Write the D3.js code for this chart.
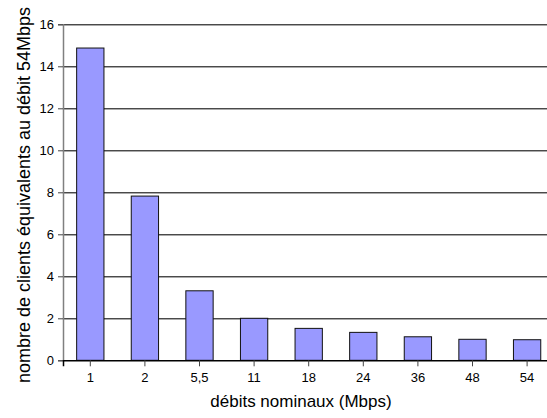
<!DOCTYPE html>
<html>
<head>
<meta charset="utf-8">
<script src="https://cdn.jsdelivr.net/npm/d3@7"></script>
<style>
  body { margin: 0; background: #fff; }
  svg { display: block; font-family: "Liberation Sans", Arial, sans-serif; }
</style>
</head>
<body>
<div id="chart"></div>
<script>
const debits = ["1", "2", "5,5", "11", "18", "24", "36", "48", "54"]
const clients = [14.87, 7.82, 3.31, 2.0, 1.52, 1.33, 1.12, 1.0, 0.98]
const yTicks = [0, 2, 4, 6, 8, 10, 12, 14, 16]

const width = 547, height = 418
const margin = {top: 24.3, right: -7.4, bottom: 57.7, left: 63}

const svg = d3.select('#chart').append('svg')
    .attr('width', width)
    .attr('height', height)

const x = d3.scaleBand()
    .domain(debits)
    .range([margin.left, width - margin.right])
    .paddingInner(0.5)
    .paddingOuter(0.25)

const y = d3.scaleLinear()
    .domain([0, 16])
    .range([height - margin.bottom, margin.top])

// horizontal grid lines (dark line with a light shadow underneath)
const grid = svg.append('g')
grid.selectAll('line.shadow')
    .data(yTicks.filter(d => d > 0))
    .join('line')
    .attr('class', 'shadow')
    .attr('x1', margin.left)
    .attr('x2', width - margin.right)
    .attr('y1', d => Math.round(y(d)) + 1.5)
    .attr('y2', d => Math.round(y(d)) + 1.5)
    .attr('stroke', '#aaa')
grid.selectAll('line.main')
    .data(yTicks.filter(d => d > 0))
    .join('line')
    .attr('class', 'main')
    .attr('x1', margin.left)
    .attr('x2', width - margin.right)
    .attr('y1', d => Math.round(y(d)) + 0.5)
    .attr('y2', d => Math.round(y(d)) + 0.5)
    .attr('stroke', '#4a4a4a')

// bars
svg.append('g')
    .selectAll('rect')
    .data(clients)
    .join('rect')
    .attr('x', (d, i) => x(debits[i]))
    .attr('y', d => y(d))
    .attr('width', x.bandwidth())
    .attr('height', d => y(0) - y(d))
    .attr('fill', '#9999ff')
    .attr('stroke', '#111')
    .attr('stroke-width', 1)

// y axis
const yAxis = svg.append('g')
    .attr('transform', `translate(${margin.left},0)`)
    .call(d3.axisLeft(y).tickValues(yTicks).tickSize(5).tickPadding(4))
yAxis.select('.domain').attr('stroke', '#808080').attr('stroke-width', 1.5)
yAxis.selectAll('.tick line').attr('stroke', '#444')
yAxis.selectAll('text').attr('font-size', 13).attr('fill', '#000')
    .attr('font-family', '"Liberation Sans", Arial, sans-serif')

// x axis
const xAxis = svg.append('g')
    .attr('transform', `translate(0,${y(0)})`)
    .call(d3.axisBottom(x).tickSizeOuter(0).tickSize(6).tickPadding(6))
xAxis.select('.domain').attr('stroke', '#000').attr('stroke-width', 1.5)
xAxis.selectAll('.tick line').attr('stroke', '#444')
xAxis.selectAll('text').attr('font-size', 13).attr('fill', '#000')
    .attr('font-family', '"Liberation Sans", Arial, sans-serif')

// axis titles
svg.append('text')
    .attr('x', 301)
    .attr('y', 407)
    .attr('text-anchor', 'middle')
    .attr('font-size', 17)
    .text('débits nominaux (Mbps)')

svg.append('text')
    .attr('transform', 'translate(30,195) rotate(-90)')
    .attr('text-anchor', 'middle')
    .attr('font-size', 18)
    .text('nombre de clients équivalents au débit 54Mbps')
</script>
</body>
</html>
